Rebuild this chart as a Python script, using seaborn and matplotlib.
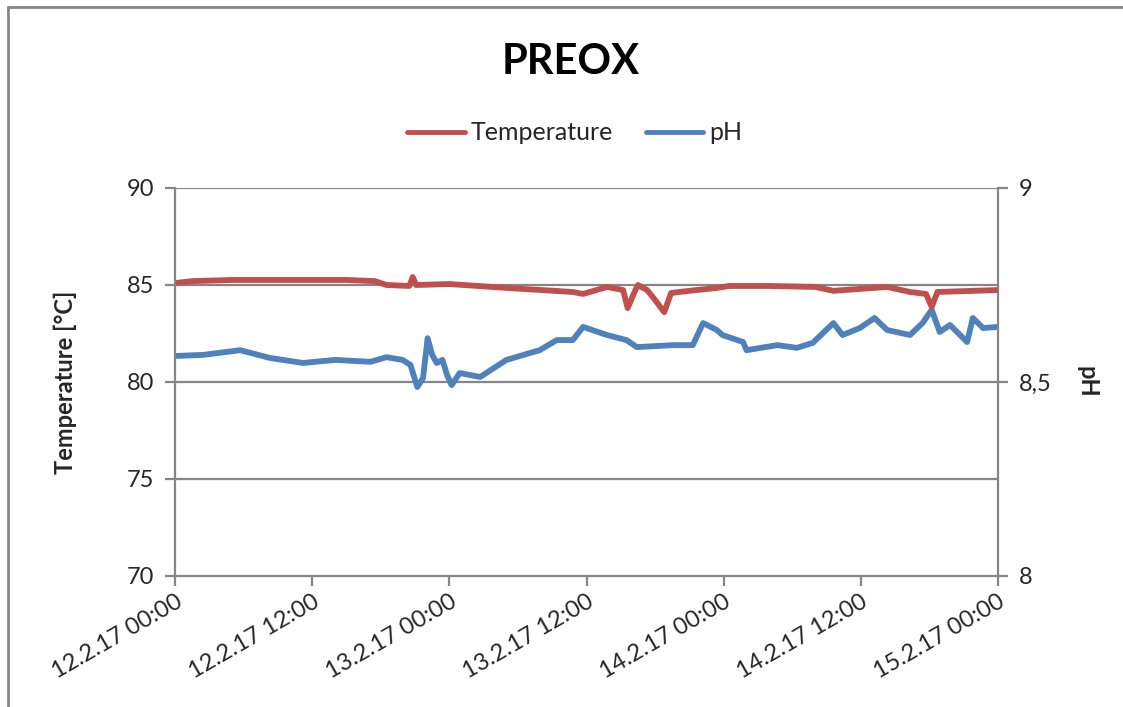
import matplotlib
matplotlib.use('Agg')
import matplotlib.pyplot as plt
import matplotlib.dates as mdates
from matplotlib.lines import Line2D
from matplotlib.ticker import FuncFormatter
import seaborn as sns
import pandas as pd

# ── data (hours after 12.2.17 00:00) ─────────────────────────────────
start = pd.Timestamp('2017-02-12 00:00')

temp_hours = [0, 1.5, 5, 10, 15, 17.5, 18.5, 20.5, 20.8, 21.1, 24, 29, 34.8, 35.7,
              37.8, 39.2, 39.6, 40.2, 40.5, 41.3, 42.0, 42.8, 43.4, 45, 47.4, 48.5,
              52, 56, 57.6, 62.3, 64.3, 65.7, 66.2, 66.7, 72]
temp_vals = [85.10, 85.20, 85.26, 85.26, 85.26, 85.20, 85.00, 84.95, 85.41, 85.00,
             85.05, 84.85, 84.64, 84.54, 84.90, 84.74, 83.81, 84.64, 85.00, 84.74,
             84.23, 83.60, 84.59, 84.70, 84.85, 84.95, 84.95, 84.90, 84.70, 84.90,
             84.64, 84.54, 83.87, 84.64, 84.74]

ph_hours = [0, 2.5, 5.7, 8.3, 11.2, 14, 17.1, 18.5, 19.9, 20.6, 21.2, 21.7, 22.1,
            22.5, 22.9, 23.4, 23.8, 24.2, 24.9, 26.7, 29.0, 31.9, 33.4, 34.8, 35.7,
            37.8, 39.5, 40.4, 43.6, 45.3, 46.2, 47.4, 47.9, 49.7, 50.0, 52.7, 54.4,
            55.8, 57.6, 58.4, 59.9, 61.2, 62.3, 64.3, 65.4, 66.2, 66.9, 67.8, 69.3,
            69.8, 70.7, 72]
ph_vals = [8.567, 8.570, 8.582, 8.562, 8.549, 8.557, 8.552, 8.564, 8.557, 8.544,
           8.487, 8.510, 8.613, 8.570, 8.549, 8.557, 8.518, 8.492, 8.523, 8.513,
           8.557, 8.582, 8.608, 8.608, 8.642, 8.621, 8.608, 8.590, 8.595, 8.595,
           8.652, 8.634, 8.621, 8.603, 8.582, 8.595, 8.588, 8.601, 8.652, 8.621,
           8.639, 8.665, 8.634, 8.621, 8.652, 8.686, 8.629, 8.647, 8.603, 8.665,
           8.639, 8.642]

temp_ticks = [70, 75, 80, 85, 90]
ph_ticks = [8, 8.5, 9]

temp_df = pd.DataFrame({'time': start + pd.to_timedelta(temp_hours, unit='h'),
                        'Temperature': temp_vals})
ph_df = pd.DataFrame({'time': start + pd.to_timedelta(ph_hours, unit='h'),
                      'pH': ph_vals})

RED = '#C0504D'
BLUE = '#4F81BD'
GRAY = '#868686'
TXT = '#262626'

sns.set_style('white')
plt.rcParams['font.family'] = ['Lato', 'DejaVu Sans']

fig = plt.figure(figsize=(11.23, 7.07), dpi=100)
ax = fig.add_axes([175 / 1123, 1 - 576 / 707, 823 / 1123, 388 / 707])
ax2 = ax.twinx()

sns.lineplot(data=temp_df, x='time', y='Temperature', ax=ax, color=RED, linewidth=4.2)
sns.lineplot(data=ph_df, x='time', y='pH', ax=ax2, color=BLUE, linewidth=4.2)

ax.set_zorder(ax2.get_zorder() + 1)
ax.patch.set_visible(False)

ax.set_ylim(70, 90)
ax.set_yticks(temp_ticks)
ax2.set_ylim(8, 9)
ax2.set_yticks(ph_ticks)
ax2.yaxis.set_major_formatter(FuncFormatter(lambda v, p: f'{v:g}'.replace('.', ',')))

ax.set_xlim(start, start + pd.Timedelta(hours=72))
ax.xaxis.set_major_locator(mdates.HourLocator(byhour=[0, 12]))
ax.xaxis.set_major_formatter(mdates.DateFormatter('%-d.%-m.%y %H:%M'))

# gridlines drawn on the pH axis so they sit under both series
for t in temp_ticks[1:]:
    ax2.axhline(8 + (t - 70) / 20, color=GRAY, linewidth=1.6, zorder=0)

for a in (ax, ax2):
    for side in a.spines.values():
        side.set_visible(False)
ax.spines['left'].set_visible(True)
ax.spines['bottom'].set_visible(True)
ax2.spines['right'].set_visible(True)
for s in (ax.spines['left'], ax.spines['bottom'], ax2.spines['right']):
    s.set_color(GRAY)
    s.set_linewidth(1.6)

ax.tick_params(axis='y', direction='out', length=7, width=1.6, color=GRAY,
               labelsize=17, labelcolor=TXT, pad=8, left=True)
ax.tick_params(axis='x', direction='out', length=7, width=1.6, color=GRAY,
               labelsize=17, labelcolor=TXT, pad=4, bottom=True)
ax2.tick_params(axis='y', direction='out', length=7, width=1.6, color=GRAY,
                labelsize=17, labelcolor=TXT, pad=8, right=True)
for lab in ax.get_xticklabels():
    lab.set_rotation(30)
    lab.set_ha('right')
    lab.set_rotation_mode('anchor')

ax.set_xlabel('')
ax.set_ylabel('Temperature [°C]', fontsize=17, fontweight='bold', labelpad=36)
ax2.set_ylabel('pH', fontsize=17, fontweight='bold', rotation=270, labelpad=34)

fig.text(0.508, 1 - 62 / 707, 'PREOX', ha='center', va='center',
         fontsize=30, fontweight='bold', color='black')

handles = [Line2D([], [], color=RED, linewidth=3.5),
           Line2D([], [], color=BLUE, linewidth=3.5)]
fig.legend(handles, ['Temperature', 'pH'], loc='center',
           bbox_to_anchor=(575 / 1123, 1 - 133 / 707), ncol=2, frameon=False,
           fontsize=18, handlelength=2.3, columnspacing=1.3, handletextpad=0.25,
           labelcolor=TXT)

# chart area border (left and top edges visible in the original crop)
fig.add_artist(Line2D([8 / 1123, 8 / 1123], [0, 1 - 7 / 707], color=GRAY,
                      linewidth=2, transform=fig.transFigure))
fig.add_artist(Line2D([8 / 1123, 1], [1 - 7 / 707, 1 - 7 / 707], color=GRAY,
                      linewidth=2, transform=fig.transFigure))

fig.savefig('out.png', dpi=100)
